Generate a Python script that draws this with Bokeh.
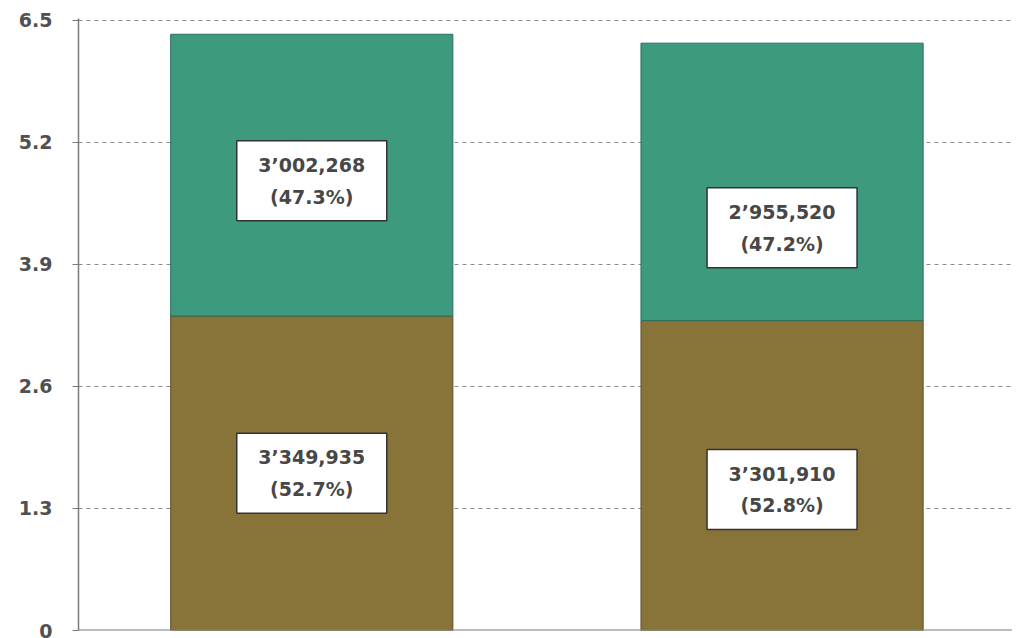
from bokeh.plotting import figure
from bokeh.models import Range1d, FixedTicker, Span
from bokeh.core.properties import value
from bokeh.embed import file_html
from bokeh.resources import INLINE

# ---- data (millions) ----
positions = [1, 2]
lower_vals = [3.349935, 3.301910]   # olive segment
upper_vals = [3.002268, 2.955520]   # teal segment
lower_text = ["3\u2019349,935\n(52.7%)", "3\u2019301,910\n(52.8%)"]
upper_text = ["3\u2019002,268\n(47.3%)", "2\u2019955,520\n(47.2%)"]
y_ticks = [0, 1.3, 2.6, 3.9, 5.2, 6.5]

# label placement within each segment (fraction of segment height)
lower_frac = [0.50, 0.455]
upper_frac = [0.48, 0.335]

tops = [a + b for a, b in zip(lower_vals, upper_vals)]
lower_label_y = [v * f for v, f in zip(lower_vals, lower_frac)]
upper_label_y = [a + b * f for a, b, f in zip(lower_vals, upper_vals, upper_frac)]

TEAL = "#3d9a7e"
OLIVE = "#887339"
GRID = "#8c8c8c"
AXIS = "#7a7a7a"
TXT = "#474747"

p = figure(width=1012, height=638, output_backend="svg", toolbar_location=None,
           x_range=Range1d(0.504, 2.49), y_range=Range1d(0, 6.52),
           min_border_left=78, min_border_top=18, min_border_bottom=8,
           min_border_right=0)
p.outline_line_color = None
p.background_fill_color = "white"
p.border_fill_color = "white"

p.xaxis.visible = False
p.xgrid.visible = False

yax = p.yaxis[0]
yax.ticker = FixedTicker(ticks=y_ticks)
yax.major_label_overrides = {t: f"{t:g}" for t in y_ticks}
yax.major_label_text_font = "DejaVu Sans"
yax.major_label_text_font_style = "bold"
yax.major_label_text_font_size = "19px"
yax.major_label_text_color = "#505050"
yax.major_label_standoff = 20
yax.major_tick_out = 6
yax.major_tick_in = 0
yax.minor_tick_line_color = None
yax.axis_line_color = AXIS
yax.axis_line_width = 1.5
yax.major_tick_line_color = AXIS

p.ygrid.ticker = FixedTicker(ticks=y_ticks)
p.ygrid.grid_line_color = GRID
p.ygrid.grid_line_dash = "4 4"
p.ygrid.grid_line_width = 1.2

p.vbar(x=positions, width=0.6, bottom=0, top=lower_vals,
       fill_color=OLIVE, line_color="#5e4f25", line_width=1)
p.vbar(x=positions, width=0.6, bottom=lower_vals, top=tops,
       fill_color=TEAL, line_color="#2d6f5c", line_width=1)

p.add_layout(Span(location=0, dimension="width", line_color=AXIS, line_width=2))

for ys, txt in ((lower_label_y, lower_text), (upper_label_y, upper_text)):
    p.rect(x=positions, y=ys, width=150, height=80, width_units="screen",
           height_units="screen", fill_color="white", line_color="#333333",
           line_width=1.5)
    p.text(x=positions, y=ys, text=txt, text_font=value("DejaVu Sans"),
           text_font_style="bold", text_font_size="19px", text_color=TXT,
           text_align="center", text_baseline="middle", text_line_height=1.45)

open("out.html", "w").write(file_html(p, INLINE))
